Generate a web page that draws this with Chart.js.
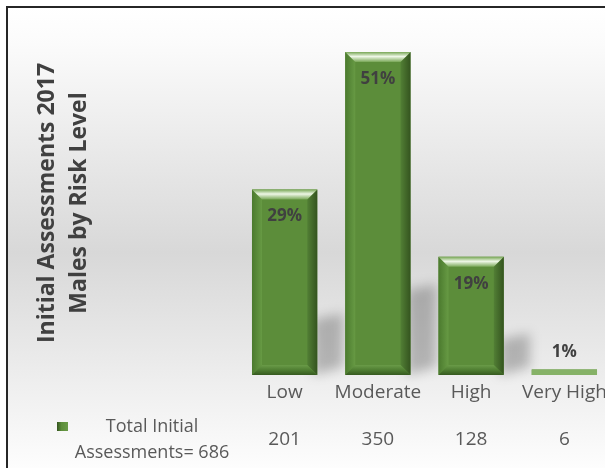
<!DOCTYPE html>
<html>
<head>
<meta charset="utf-8">
<script src="https://cdn.jsdelivr.net/npm/chart.js@4.4.1/dist/chart.umd.min.js"></script>
<style>
  html, body { margin: 0; padding: 0; background: #fff; overflow: hidden; }
  #wrap { width: 605px; height: 468px; overflow: hidden; }
</style>
</head>
<body>
<div id="wrap"><canvas id="myChart" width="620" height="480"></canvas></div>
<script>
// chart data
const categories = ["Low", "Moderate", "High", "Very High"];
const assessments = [201, 350, 128, 6];
const percentLabels = ["29%", "51%", "19%", "1%"];
const seriesName = ["Total Initial", "Assessments= 686"];
const titleLines = ["Initial Assessments 2017", "Males by Risk Level"];
const yMax = 350;

const FONT = "'Open Sans', 'Noto Sans', sans-serif";
const GREEN = "#5c8d3a";

// gradient background + frame (only top and left edges are in view)
const backgroundPlugin = {
  id: "background",
  beforeDraw(chart) {
    const ctx = chart.ctx;
    const w = chart.width, h = chart.height;
    ctx.save();
    const g = ctx.createLinearGradient(0, 7, 0, h);
    g.addColorStop(0, "#ffffff");
    g.addColorStop(0.08, "#fbfbfb");
    g.addColorStop(0.52, "#d8d8d8");
    g.addColorStop(1, "#ffffff");
    ctx.fillStyle = g;
    ctx.fillRect(7, 7, w, h);
    ctx.strokeStyle = "#262626";
    ctx.lineWidth = 2;
    ctx.beginPath();
    ctx.moveTo(7, h);
    ctx.lineTo(7, 7);
    ctx.lineTo(w, 7);
    ctx.stroke();
    ctx.restore();
  },
};

// soft shadow to the right of each bar
const shadowPlugin = {
  id: "barShadow",
  beforeDatasetsDraw(chart) {
    const ctx = chart.ctx;
    const meta = chart.getDatasetMeta(0);
    ctx.save();
    ctx.filter = "blur(6px)";
    ctx.fillStyle = "rgba(0,0,0,0.24)";
    meta.data.forEach((bar) => {
      const p = bar.getProps(["x", "y", "base", "width"], true);
      const h = p.base - p.y;
      if (h < 20) return;
      const right = p.x + p.width / 2;
      const sh = Math.min(h * 0.3, 85);
      ctx.beginPath();
      ctx.moveTo(right - 4, p.base);
      ctx.lineTo(right - 4, p.base - sh);
      ctx.lineTo(right + 26, p.base - sh - 6);
      ctx.lineTo(right + 26, p.base - 8);
      ctx.closePath();
      ctx.fill();
    });
    ctx.restore();
  },
};

function poly(ctx, pts, fill) {
  ctx.beginPath();
  ctx.moveTo(pts[0][0], pts[0][1]);
  for (let i = 1; i < pts.length; i++) ctx.lineTo(pts[i][0], pts[i][1]);
  ctx.closePath();
  ctx.fillStyle = fill;
  ctx.fill();
}

// bevel look on the bars + percent labels
const bevelPlugin = {
  id: "bevel",
  afterDatasetsDraw(chart) {
    const ctx = chart.ctx;
    const meta = chart.getDatasetMeta(0);
    ctx.save();
    meta.data.forEach((bar, i) => {
      const p = bar.getProps(["x", "y", "base", "width"], true);
      const L = p.x - p.width / 2, R = p.x + p.width / 2;
      const T = p.y, B = p.base;
      const h = B - T;
      if (h >= 30) {
        const b = 10;
        // left side
        let g = ctx.createLinearGradient(L, 0, L + b, 0);
        g.addColorStop(0, "#4b7a2e");
        g.addColorStop(1, "#679a44");
        poly(ctx, [[L, T], [L + b, T + b], [L + b, B - b], [L, B]], g);
        // right side
        g = ctx.createLinearGradient(R - b, 0, R, 0);
        g.addColorStop(0, "#527f35");
        g.addColorStop(1, "#34541f");
        poly(ctx, [[R, T], [R, B], [R - b, B - b], [R - b, T + b]], g);
        // top
        g = ctx.createLinearGradient(0, T, 0, T + b);
        g.addColorStop(0, "#78a756");
        g.addColorStop(0.45, "#eef7e6");
        g.addColorStop(1, "#78a756");
        poly(ctx, [[L, T], [R, T], [R - b, T + b], [L + b, T + b]], g);
        // bottom
        g = ctx.createLinearGradient(0, B - b, 0, B);
        g.addColorStop(0, "#6a9b48");
        g.addColorStop(0.5, "#4f7e32");
        g.addColorStop(1, "#365a20");
        poly(ctx, [[L, B], [R, B], [R - b, B - b], [L + b, B - b]], g);
      } else {
        ctx.fillStyle = "#86b267";
        ctx.fillRect(L, T, R - L, h);
      }
      // percent label
      ctx.font = "bold 17px " + FONT;
      ctx.fillStyle = "#404040";
      ctx.textAlign = "center";
      ctx.textBaseline = "middle";
      const ly = h >= 30 ? T + 27 : T - 17;
      ctx.fillText(percentLabels[i], p.x, ly);
    });
    ctx.restore();
  },
};

// category labels, data table row, legend key and rotated title
const tablePlugin = {
  id: "dataTable",
  afterDraw(chart) {
    const ctx = chart.ctx;
    const xScale = chart.scales.x;
    ctx.save();
    ctx.fillStyle = "#595959";
    ctx.font = "19px " + FONT;
    ctx.textAlign = "center";
    ctx.textBaseline = "middle";
    categories.forEach((c, i) => {
      const x = xScale.getPixelForValue(i);
      ctx.fillText(c, x, 393);
      ctx.fillText(String(assessments[i]), x, 440);
    });
    // legend entry
    ctx.font = "18px " + FONT;
    ctx.fillText(seriesName[0], 152, 427);
    ctx.fillText(seriesName[1], 152, 453);
    const g = ctx.createLinearGradient(57, 0, 68, 0);
    g.addColorStop(0, "#34541f");
    g.addColorStop(0.4, GREEN);
    g.addColorStop(1, "#6a9b48");
    ctx.fillStyle = g;
    ctx.fillRect(57, 422, 11, 9);
    // title
    ctx.translate(0, 203);
    ctx.rotate(-Math.PI / 2);
    ctx.fillStyle = "#404040";
    ctx.font = "bold 23px " + FONT;
    ctx.textBaseline = "alphabetic";
    ctx.fillText(titleLines[0], 0, 54);
    ctx.fillText(titleLines[1], 0, 86);
    ctx.restore();
  },
};

const ctx = document.getElementById("myChart").getContext("2d");
new Chart(ctx, {
  type: "bar",
  data: {
    labels: categories,
    datasets: [
      {
        label: seriesName.join(" "),
        data: assessments,
        backgroundColor: GREEN,
        borderWidth: 0,
        barPercentage: 0.7,
        categoryPercentage: 1,
      },
    ],
  },
  options: {
    responsive: false,
    animation: false,
    devicePixelRatio: 1,
    layout: { padding: { left: 238, right: 9, top: 52, bottom: 105 } },
    plugins: {
      legend: { display: false },
      title: { display: false },
      tooltip: { enabled: false },
    },
    scales: {
      x: { display: false },
      y: { display: false, min: 0, max: yMax },
    },
  },
  plugins: [backgroundPlugin, shadowPlugin, bevelPlugin, tablePlugin],
});
</script>
</body>
</html>
